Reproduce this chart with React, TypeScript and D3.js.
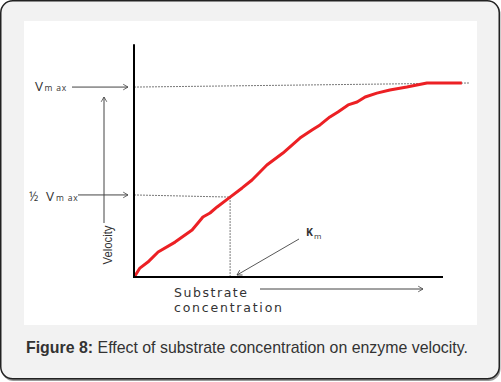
import React from "react";
import * as d3 from "d3";

// Curve: substrate concentration (x) vs velocity (y)
const substrate = [0, 0.3, 1.9, 4.5, 7.8, 13.3, 18.8, 20.7, 22.3, 24.6, 26.9, 31.1, 35.0, 38.2, 43.0, 48.2, 53.7, 57.6, 60.2, 63.4, 66.0, 69.3, 72.2, 74.8, 78.6, 82.8, 88.3, 94.8, 106.1];
const velocity = [0, 0.5, 4.6, 7.7, 12.9, 18.0, 24.2, 27.8, 30.9, 33.0, 36.1, 41.2, 45.9, 50.0, 57.7, 63.9, 71.6, 75.8, 78.4, 82.5, 85.1, 88.7, 90.2, 92.8, 94.8, 96.4, 97.9, 100, 100];

const vmaxGuideX = [0, 108.4];
const vmaxGuideY = [97.9, 100];
const halfGuideX = [0, 31.1];
const halfGuideY = [42.3, 41.2];
const kmValue = 31.1;
const xAxisMax = 100;
const yAxisMax = 120;

const caption = "Effect of substrate concentration on enzyme velocity.";
const captionBold = "Figure 8:";

export default function App() {
  const x = d3.scaleLinear().domain([0, 100]).range([134, 443]);
  const y = d3.scaleLinear().domain([0, 100]).range([277, 83]);
  const pts = substrate.map((s, i) => [x(s), y(velocity[i])] as [number, number]);
  const line = d3.line().curve(d3.curveLinear);
  const txt = "#333";
  const arrowCol = "#444";
  return (
    <svg width={501} height={382} style={{ position: "absolute", left: 0, top: 0 }}>
      <defs>
        <marker id="ah" viewBox="-8 -5 10 10" refX={0} refY={0} markerWidth={8} markerHeight={8} markerUnits="userSpaceOnUse" orient="auto">
          <path d="M-6,-3.5 L0,0 L-6,3.5" fill="none" stroke={arrowCol} strokeWidth={1} />
        </marker>
      </defs>
      {/* frame */}
      <rect x={1.5} y={2} width={499} height={379} rx={12} fill="#9a9a9a" />
      <rect x={0.75} y={0.75} width={498.5} height={378} rx={12} fill="#f2f2f2" stroke="#222" strokeWidth={1.5} />
      <rect x={24} y={21} width={453} height={304} fill="#ffffff" />

      {/* guides */}
      <line x1={x(vmaxGuideX[0])} y1={y(vmaxGuideY[0])} x2={x(vmaxGuideX[1])} y2={y(vmaxGuideY[1])} stroke="#555" strokeWidth={0.8} strokeDasharray="2,1" />
      <line x1={x(halfGuideX[0])} y1={y(halfGuideY[0])} x2={x(halfGuideX[1])} y2={y(halfGuideY[1])} stroke="#555" strokeWidth={0.8} strokeDasharray="2,1" />
      <line x1={x(kmValue)} y1={y(halfGuideY[1])} x2={x(kmValue)} y2={y(0)} stroke="#555" strokeWidth={0.8} strokeDasharray="2,1" />

      {/* curve */}
      <path d={line(pts) || ""} fill="none" stroke="#ec2024" strokeWidth={3} strokeLinejoin="round" />

      {/* axes */}
      <line x1={x(0)} y1={y(0)} x2={x(0)} y2={y(yAxisMax)} stroke="#000" strokeWidth={2} />
      <line x1={x(0) - 1} y1={y(0)} x2={x(xAxisMax)} y2={y(0)} stroke="#000" strokeWidth={2} />

      {/* Vmax label + arrow */}
      <text x={35} y={91} fontFamily="'Open Sans', sans-serif" fontSize={13.5} fill={txt}>V</text>
      <text x={44.5} y={91} fontFamily="'Open Sans', sans-serif" fontSize={8.5} fill={txt} letterSpacing={0.8}>m ax</text>
      <line x1={72} y1={y(vmaxGuideY[0])} x2={128} y2={y(vmaxGuideY[0])} stroke={arrowCol} strokeWidth={1} markerEnd="url(#ah)" />

      {/* ½ Vmax label + arrow */}
      <text x={29} y={201} fontFamily="'Open Sans', sans-serif" fontSize={12} fill={txt}>½</text>
      <text x={46} y={201} fontFamily="'Open Sans', sans-serif" fontSize={13.5} fill={txt}>V</text>
      <text x={56} y={201} fontFamily="'Open Sans', sans-serif" fontSize={8.5} fill={txt} letterSpacing={0.8}>m ax</text>
      <line x1={78} y1={y(halfGuideY[0])} x2={128} y2={y(halfGuideY[0])} stroke={arrowCol} strokeWidth={1} markerEnd="url(#ah)" />

      {/* Velocity arrow */}
      <line x1={104} y1={223} x2={104} y2={97} stroke={arrowCol} strokeWidth={1} markerEnd="url(#ah)" />
      <text transform="translate(108,245) rotate(-90)" textAnchor="middle" dominantBaseline="central" fontFamily="'Liberation Sans', Arial, sans-serif" fontSize={12.5} fill={txt} textLength={39} lengthAdjust="spacingAndGlyphs">Velocity</text>

      {/* Km label + arrow */}
      <text x={306} y={236} fontFamily="'Open Sans', sans-serif" fontSize={10.5} fontWeight="bold" fill={txt}>K</text>
      <text x={314} y={239} fontFamily="'Open Sans', sans-serif" fontSize={8} fill={txt}>m</text>
      <line x1={299} y1={239} x2={237} y2={275} stroke={arrowCol} strokeWidth={0.9} markerEnd="url(#ah)" />

      {/* Substrate concentration */}
      <text x={174} y={297} fontFamily="'DejaVu Sans', sans-serif" fontSize={12.5} fill={txt} textLength={73} lengthAdjust="spacing">Substrate</text>
      <text x={174} y={312} fontFamily="'DejaVu Sans', sans-serif" fontSize={12.5} fill={txt} textLength={108} lengthAdjust="spacing">concentration</text>
      <line x1={260} y1={289} x2={423} y2={289} stroke={arrowCol} strokeWidth={1} markerEnd="url(#ah)" />

      {/* caption */}
      <text x={26} y={353} fontFamily="'Liberation Sans', Arial, sans-serif" fontSize={15.9} fill="#333">
        <tspan fontWeight="bold">{captionBold}</tspan>
        <tspan> {caption}</tspan>
      </text>
    </svg>
  );
}
